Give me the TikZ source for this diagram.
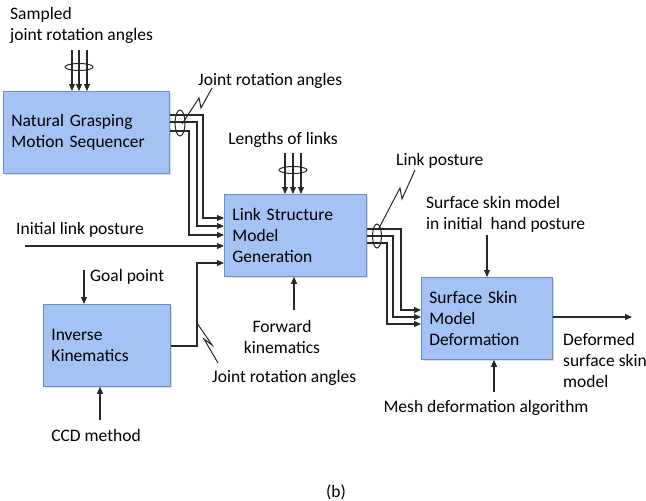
\documentclass[tikz,border=0pt]{standalone}
\usepackage{fontspec}
\setmainfont{Carlito}
\usetikzlibrary{arrows.meta,shadows}
\definecolor{boxfill}{RGB}{164,194,244}
\definecolor{boxline}{RGB}{108,142,200}
\definecolor{wire}{RGB}{40,40,40}

\begin{document}
\begin{tikzpicture}[x=1pt,y=-1pt,
    blk/.style={draw=boxline, fill=boxfill, line width=0.8pt, anchor=north west, minimum height=82pt,
        inner xsep=8pt, inner ysep=0pt, align=left, font=\fontsize{17.5}{21}\selectfont,
        drop shadow={shadow xshift=1.2pt, shadow yshift=-1.2pt, opacity=0.25}},
    lbl/.style={inner sep=0pt, align=left, font=\fontsize{17.5}{21}\selectfont},
    arr/.style={draw=wire, line width=1.1pt, -{Triangle[length=7pt,width=6pt]}},
    ln/.style={draw=wire, line width=1pt}]
    \useasboundingbox (0,0) rectangle (646,501);

    \node [blk, text width=150pt] (ngms) at (3,91) {Natural Grasping\\Motion Sequencer};
    \node [blk, text width=126pt] (lsmg) at (224,194) {Link Structure\\Model\\Generation};
    \node [blk, text width=115pt] (ssmd) at (421,277) {Surface Skin\\Model\\Deformation};
    \node [blk, text width=111pt] (ik) at (43,304) {Inverse\\Kinematics};

    \node [lbl, anchor=west] (sampled) at (10,25.5) {Sampled\\joint rotation angles};
    \node [lbl, anchor=west] (jratop) at (198,81) {Joint rotation angles};
    \node [lbl] (lengths) at (283,140) {Lengths of links};
    \node [lbl, anchor=west] (linkpost) at (396,161) {Link posture};
    \node [lbl, anchor=west] (skininit) at (426,214) {Surface skin model\\in initial\ \ hand posture};
    \node [lbl, anchor=west] (initpost) at (16,230) {Initial link posture};
    \node [lbl, anchor=west] (goal) at (90,277) {Goal point};
    \node [lbl, align=center] (fk) at (282,336.5) {Forward\\kinematics};
    \node [lbl, anchor=west] (jrabot) at (212,378) {Joint rotation angles};
    \node [lbl, anchor=west] (deformed) at (563,360.5) {Deformed\\surface skin\\model};
    \node [lbl] (mesh) at (486,408) {Mesh deformation algorithm};
    \node [lbl] (ccd) at (96,435) {CCD method};
    \node [lbl] (cap) at (336,492) {(b)};

    \coordinate (initsrc) at (25,246);
    \coordinate (goalsrc) at (84,270);
    \coordinate (ccdsrc) at (100,420);
    \coordinate (fksrc) at (294,310);
    \coordinate (skinsrc) at (487,235);
    \coordinate (meshsrc) at (494,392);
    \coordinate (outend) at (632,317);

    \foreach \x in {72,79,87}
        \draw [arr] (\x,50) -- (\x,50 |- ngms.north);
    \draw [ln] (79,67) ellipse [x radius=14pt, y radius=3.5pt];

    \foreach \x in {285,293,301}
        \draw [arr] (\x,153) -- (\x,153 |- lsmg.north);
    \draw [ln] (293,170) ellipse [x radius=14pt, y radius=3.5pt];

    \draw [arr] (ngms.east |- 0,115) -| (203,218) -- (lsmg.west |- 0,218);
    \draw [arr] (ngms.east |- 0,122) -| (197,226) -- (lsmg.west |- 0,226);
    \draw [arr] (ngms.east |- 0,131) -| (189,235) -- (lsmg.west |- 0,235);
    \draw [ln] (180,123) ellipse [x radius=5pt, y radius=13pt];
    \draw [ln] (182,124) -- (199,98) -- (201,108) -- (212,88);

    \draw [arr] (initsrc) -- (lsmg.west |- initsrc);
    \draw [arr] (ik.east |- 0,346) -| (197,263) -- (lsmg.west |- 0,263);
    \draw [ln] (197,323) -- (212,345) -- (204,339) -- (218,363);

    \draw [arr] (lsmg.east |- 0,229) -| (401,310) -- (ssmd.west |- 0,310);
    \draw [arr] (lsmg.east |- 0,236) -| (393,317) -- (ssmd.west |- 0,317);
    \draw [arr] (lsmg.east |- 0,243) -| (387,324) -- (ssmd.west |- 0,324);
    \draw [ln] (377,236) ellipse [x radius=4.5pt, y radius=12pt];
    \draw [ln] (378,230) -- (400,188) -- (402,199) -- (415,170);

    \draw [arr] (goalsrc) -- (goalsrc |- ik.north);
    \draw [arr] (ccdsrc) -- (ccdsrc |- ik.south);
    \draw [arr] (fksrc) -- (fksrc |- lsmg.south);
    \draw [arr] (skinsrc) -- (skinsrc |- ssmd.north);
    \draw [arr] (meshsrc) -- (meshsrc |- ssmd.south);
    \draw [arr] (ssmd.east |- outend) -- (outend);
\end{tikzpicture}
\end{document}
